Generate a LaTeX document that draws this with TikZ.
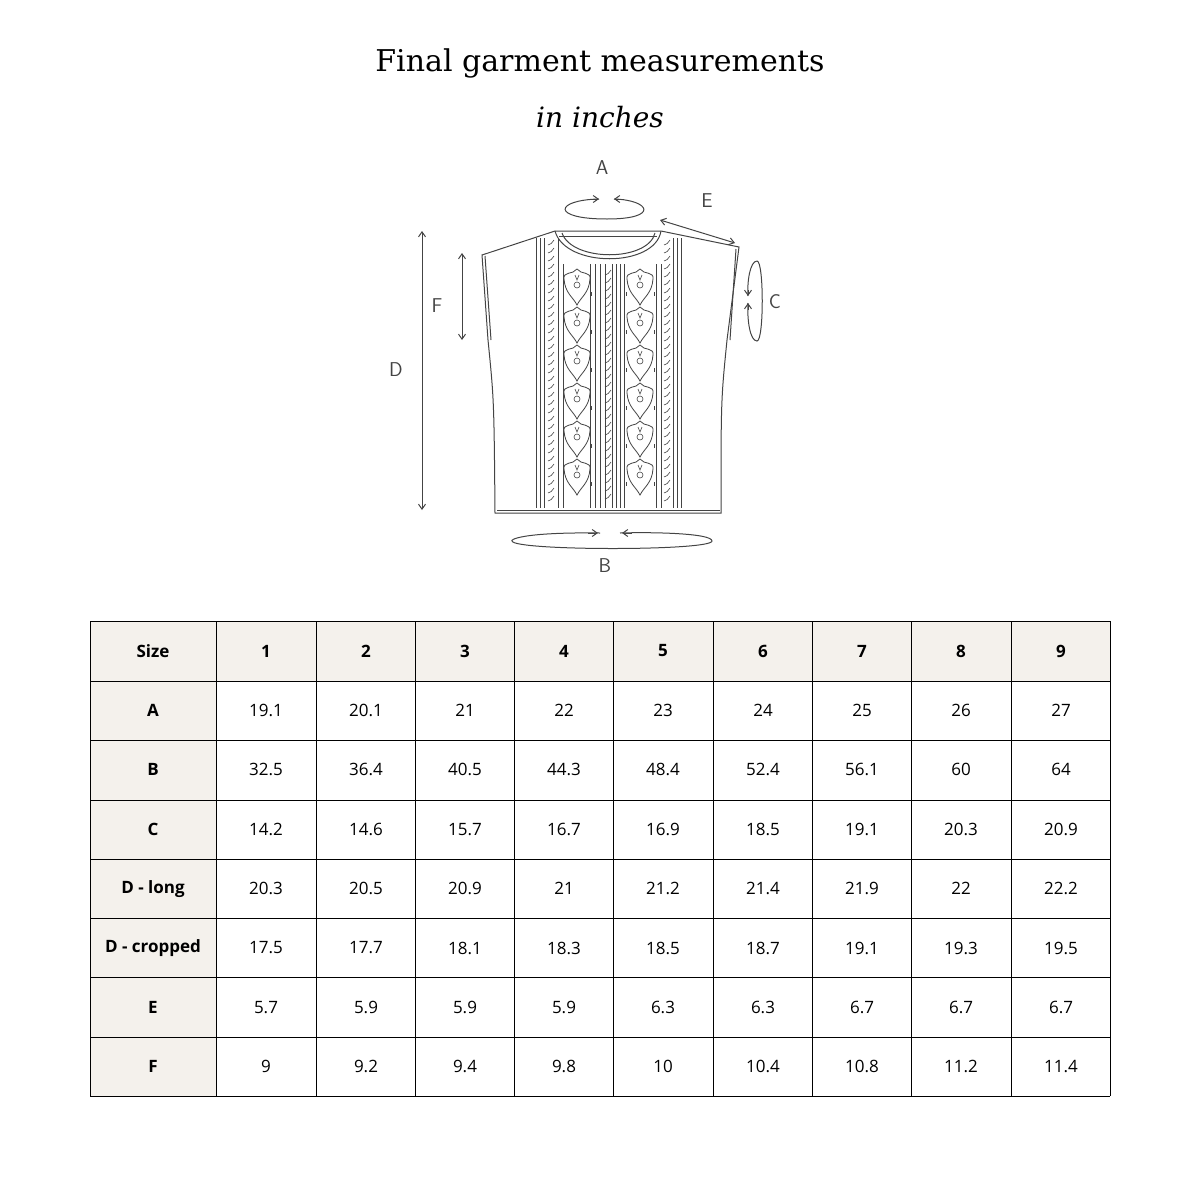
\documentclass[tikz,border=0pt]{standalone}
\usepackage{fontspec}
\setmainfont{DejaVu Serif}
\newfontfamily\tabfont{Open Sans}
\usetikzlibrary{arrows.meta}
\definecolor{pen}{HTML}{444444}
\definecolor{beige}{HTML}{F4F1EC}
\begin{document}
\begin{tikzpicture}[x=1pt,y=-1pt,
  sk/.style={draw=pen,line width=1pt},
  dim/.style={draw=pen,line width=1pt,-{Straight Barb[length=5pt,width=7pt]}},
  dd/.style={draw=pen,line width=1pt,{Straight Barb[length=5pt,width=7pt]}-{Straight Barb[length=5pt,width=7pt]}},
  lbl/.style={font=\sffamily\fontsize{20}{20}\selectfont,text=pen},
  cell/.style={font=\tabfont\fontsize{17}{17}\selectfont},
  hcell/.style={font=\tabfont\bfseries\fontsize{17}{17}\selectfont}]
\useasboundingbox (0,0) rectangle (1200,1200);
\node (title) at (600,63) {\fontsize{30}{30}\selectfont Final garment measurements};
\node (sub) at (600,117) {\fontsize{28}{28}\selectfont\itshape in inches};
% garment
\draw[sk] (488,340) -- (482,255) -- (555,231) -- (661,231) -- (739,247) -- (727,340);
\draw[sk] (488,340) .. controls (494,400) .. (495,513) -- (721,513) .. controls (721,400) .. (727,340);
\draw[sk] (485,256) -- (491,340); \draw[sk] (736,249) -- (730,340);
\draw[sk] (555,231) .. controls (565,268) and (655,268) .. (661,231);
\draw[sk] (562,233) .. controls (572,262) and (648,262) .. (655,233);
\draw[sk] (559,236) -- (657,236);
\draw[sk] (497,510) -- (720,510);
\foreach \x in {536,540,544,558,673,677,681}
  \draw[pen,line width=0.6pt] (\x,238) -- (\x,508);
\foreach \x in {563,590,595,600,605,612,616,620,624,656,661}
  \draw[pen,line width=0.6pt] (\x,264) -- (\x,508);
\foreach \cx in {551,667}
  \foreach \y in {242,250,...,502}
    \draw[pen,line width=0.6pt] (\cx-3,\y+3) .. controls (\cx,\y+2) .. (\cx+3,\y-2);
\foreach \y in {272,280,...,502}
    \draw[pen,line width=0.6pt] (605,\y+3) .. controls (608,\y+2) .. (611,\y-2);
\foreach \cx in {577,640}
  \foreach \k in {0,...,5}{
    \pgfmathsetmacro\yy{267+38*\k}
    \draw[pen,line width=0.8pt] (\cx,\yy+2) .. controls (\cx-4,\yy+8) and (\cx-14,\yy+4) .. (\cx-13,\yy+12)
      .. controls (\cx-12,\yy+26) and (\cx-4,\yy+30) .. (\cx,\yy+38)
      .. controls (\cx+4,\yy+30) and (\cx+12,\yy+26) .. (\cx+13,\yy+12)
      .. controls (\cx+14,\yy+4) and (\cx+4,\yy+8) .. (\cx,\yy+2);
    \draw[pen,line width=0.6pt] (\cx,\yy+18) circle (3);
    \draw[pen,line width=0.6pt] (\cx-2,\yy+8) -- (\cx,\yy+13) -- (\cx+2,\yy+8);
    \draw[pen,line width=0.6pt] (\cx-14,\yy+25) arc (200:160:6);
    \draw[pen,line width=0.6pt] (\cx+14,\yy+25) arc (-20:20:6);
  }
% measurements
\draw[sk] (614,199) .. controls (650,200) and (660,219) .. (607,219) .. controls (550,219) and (555,200) .. (599,199);
\draw[dim] (590,199) -- (599,199); \draw[dim] (624,199) -- (614,199);
\node[lbl] (lA) at (602,168) {A};
\draw[dd] (660,220) -- (735,243);
\node[lbl] (lE) at (707,201) {E};
\draw[sk] (757,261) .. controls (764,261) and (764,341) .. (757,341) .. controls (750,341) and (747,320) .. (748,303);
\draw[sk] (757,261) .. controls (750,261) and (747,282) .. (748,296);
\draw[dim] (748,290) -- (748,296); \draw[dim] (748,310) -- (748,303);
\node[lbl] (lC) at (775,302) {C};
\draw[dd] (422,231) -- (422,510);
\node[lbl] (lD) at (396,370) {D};
\draw[dd] (462,253) -- (462,340);
\node[lbl] (lF) at (437,306) {F};
\draw[sk] (600,533) .. controls (520,532) and (510,540) .. (512,541) .. controls (514,551) and (712,551) .. (712,541) .. controls (712,533) and (650,532) .. (620,533);
\draw[dim] (588,533) -- (598,533); \draw[dim] (632,533) -- (622,533);
\node[lbl] (lB) at (605,566) {B};
% table
\fill[beige] (90,621) rectangle (1110,681);
\fill[beige] (90,621) rectangle (216,1096);
\foreach \x in {90,216,316,415,514,613,713,812,911,1011,1110}
  \draw[black,line width=0.9pt] (\x,621) -- (\x,1096);
\foreach \y in {621,681,740,800,859,918,977,1037,1096}
  \draw[black,line width=0.9pt] (90,\y) -- (1110,\y);
\def\xs{{153,266,366,465,564,663,763,862,961,1061}}
\foreach \r [count=\i from 0] in {
 {Size,1,2,3,4,5,6,7,8,9},
 {A,19.1,20.1,21,22,23,24,25,26,27},
 {B,32.5,36.4,40.5,44.3,48.4,52.4,56.1,60,64},
 {C,14.2,14.6,15.7,16.7,16.9,18.5,19.1,20.3,20.9},
 {D - long,20.3,20.5,20.9,21,21.2,21.4,21.9,22,22.2},
 {D - cropped,17.5,17.7,18.1,18.3,18.5,18.7,19.1,19.3,19.5},
 {E,5.7,5.9,5.9,5.9,6.3,6.3,6.7,6.7,6.7},
 {F,9,9.2,9.4,9.8,10,10.4,10.8,11.2,11.4}} {
  \foreach \t [count=\j from 0] in \r {
    \pgfmathsetmacro\xx{\xs[\j]}
    \pgfmathsetmacro\yy{651+59.4*\i}
    \ifnum\i=0 \node[hcell] (c-\i-\j) at (\xx,\yy) {\t};
    \else\ifnum\j=0 \node[hcell] (c-\i-\j) at (\xx,\yy) {\t};
    \else \node[cell] (c-\i-\j) at (\xx,\yy) {\t};\fi\fi
  }
}
\end{tikzpicture}
\end{document}
